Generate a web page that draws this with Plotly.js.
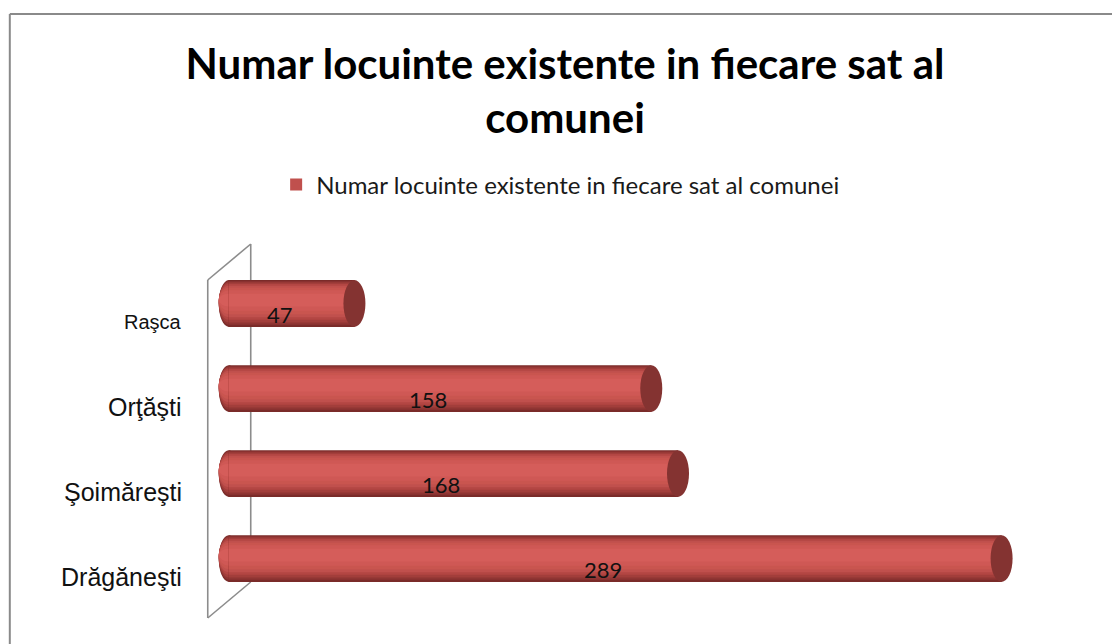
<!DOCTYPE html>
<html>
<head>
<meta charset="utf-8">
<script src="https://cdn.plot.ly/plotly-3.0.1.min.js"></script>
<style>html,body{margin:0;padding:0;background:#fff;}#chart{width:1112px;height:644px;}</style>
</head>
<body>
<div id="chart"></div>
<script>
// ---- data ----
const categories = ['Raşca', 'Orţăşti', 'Şoimăreşti', 'Drăgăneşti'];
const values = [47, 158, 168, 289];
const seriesName = 'Numar locuinte existente in fiecare sat al comunei';
const titleLines = ['Numar locuinte existente in fiecare sat al', 'comunei'];

// ---- styling / geometry ----
const W = 1112, H = 644;
const PPU = 2.675, ZERO_PX = 229, XMIN = -10, XMAX = 300;
const M = {l: ZERO_PX + XMIN * PPU, r: W - (ZERO_PX + XMAX * PPU), t: 261, b: 43, autoexpand: false};
const plotW = W - M.l - M.r, plotH = H - M.t - M.b;
const px = x => (x - M.l) / plotW;          // pixel -> paper x
const py = y => (H - M.b - y) / plotH;      // pixel -> paper y
const labelSizes = [20, 25, 25, 25];

// cylinder shading layers (full width, colour, vertical shift toward top)
const layers = [
  {w: 0.55, c: '#7A2B29', s: 0.0},
  {w: 0.51, c: '#8F3533', s: -0.006},
  {w: 0.47, c: '#A23E3B', s: -0.012},
  {w: 0.42, c: '#B34643', s: -0.018},
  {w: 0.37, c: '#C0504D', s: -0.024, legend: true},
  {w: 0.31, c: '#C9554F', s: -0.03},
  {w: 0.24, c: '#CF5855', s: -0.035},
  {w: 0.15, c: '#D55D5A', s: -0.04}
];

const traces = layers.map(L => ({
  type: 'bar',
  orientation: 'h',
  x: values,
  y: categories,
  width: L.w,
  offset: -L.w / 2 + L.s,
  name: seriesName,
  showlegend: !!L.legend,
  marker: {color: L.c, line: {width: 0}},
  hoverinfo: 'skip'
}));

const shapes = [];
const wall = {color: '#8C8C8C', width: 1.6};
// side wall (behind bars)
shapes.push({type: 'line', xref: 'paper', yref: 'paper', x0: px(251), y0: py(244), x1: px(251), y1: py(582), line: wall, layer: 'below'});
shapes.push({type: 'line', xref: 'paper', yref: 'paper', x0: px(208), y0: py(280), x1: px(251), y1: py(244), line: wall, layer: 'below'});
shapes.push({type: 'line', xref: 'paper', yref: 'paper', x0: px(208), y0: py(618), x1: px(251), y1: py(582), line: wall, layer: 'below'});
shapes.push({type: 'line', xref: 'paper', yref: 'paper', x0: px(208), y0: py(280), x1: px(208), y1: py(618), line: wall, layer: 'below'});
// outer frame
shapes.push({type: 'line', xref: 'paper', yref: 'paper', x0: px(10), y0: py(14), x1: px(1120), y1: py(14), line: {color: '#8A8A8A', width: 2}});
shapes.push({type: 'line', xref: 'paper', yref: 'paper', x0: px(10), y0: py(14), x1: px(10), y1: py(660), line: {color: '#8A8A8A', width: 2}});

const rLeft = 10 / PPU, rRight = 11 / PPU;
categories.forEach((cat, i) => {
  // rounded left end of cylinder
  layers.forEach(L => {
    shapes.push({type: 'circle', xref: 'x', yref: 'y', layer: 'below',
      x0: -rLeft, x1: rLeft, y0: i - L.w / 2 + L.s, y1: i + L.w / 2 + L.s,
      fillcolor: L.c, line: {width: 0}});
  });
  // right end face
  shapes.push({type: 'circle', xref: 'x', yref: 'y', layer: 'above',
    x0: values[i] - rRight, x1: values[i] + rRight, y0: i - 0.275, y1: i + 0.275,
    fillcolor: '#843331', line: {width: 0}});
});

const annotations = [];
categories.forEach((cat, i) => {
  annotations.push({xref: 'x', yref: 'y', x: values[i] / 2, y: cat, xshift: -12, yshift: -11,
    text: String(values[i]), showarrow: false,
    font: {family: 'Lato, sans-serif', size: 22, color: '#111'}});
  annotations.push({xref: 'paper', yref: 'y', x: px(184), y: cat, yshift: -18, xanchor: 'right',
    text: cat, showarrow: false,
    font: {family: 'Liberation Sans, Arial, sans-serif', size: labelSizes[i], color: '#111'}});
});

const layout = {
  width: W, height: H,
  margin: M,
  paper_bgcolor: '#fff', plot_bgcolor: 'rgba(0,0,0,0)',
  barmode: 'overlay',
  title: {text: titleLines.join('<br>'), xref: 'container', x: 565 / W, xanchor: 'center',
    yref: 'container', y: 1 - 78.5 / H, yanchor: 'middle',
    font: {family: 'Lato, sans-serif', size: 42, color: '#000', weight: 'bold'}},
  legend: {orientation: 'h', x: px(561), xanchor: 'center', y: py(185), yanchor: 'middle',
    font: {family: 'Lato, sans-serif', size: 24, color: '#1a1a1a'}, bgcolor: 'rgba(0,0,0,0)'},
  xaxis: {range: [XMIN, XMAX], visible: false, fixedrange: true},
  yaxis: {type: 'category', categoryorder: 'array', categoryarray: categories,
    range: [categories.length - 0.5, -0.5], visible: false, fixedrange: true},
  shapes: shapes,
  annotations: annotations,
  showlegend: true
};

Plotly.newPlot('chart', traces, layout, {displayModeBar: false, staticPlot: true});
</script>
</body>
</html>
